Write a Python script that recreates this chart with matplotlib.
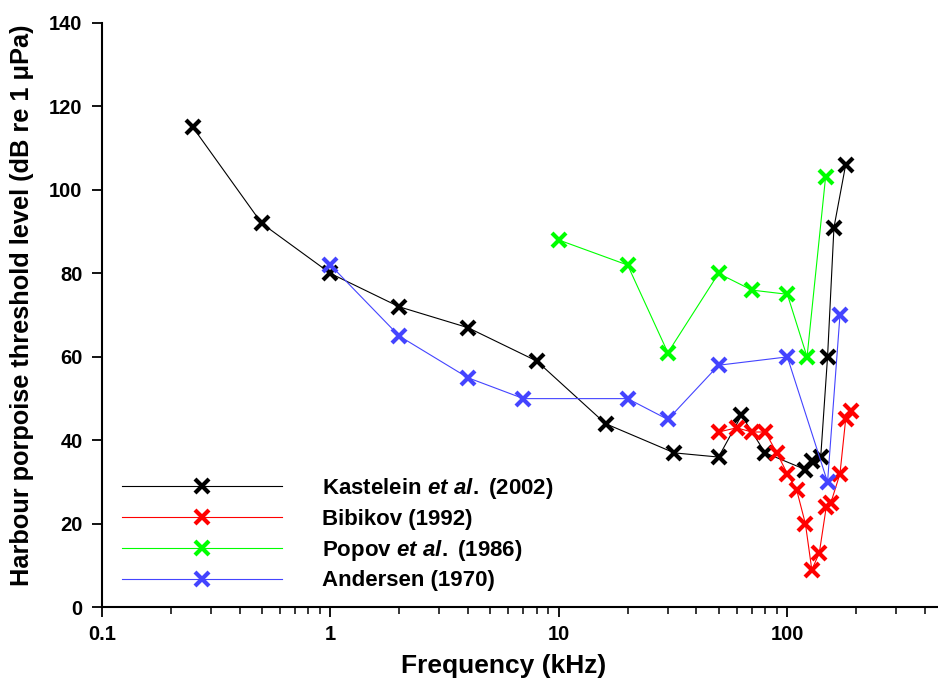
import matplotlib
matplotlib.use('Agg')
import matplotlib.pyplot as plt
from matplotlib.ticker import LogLocator, FixedLocator, NullFormatter

plt.rcParams['font.family'] = ['Liberation Sans', 'DejaVu Sans']
plt.rcParams['font.weight'] = 'bold'
plt.rcParams['mathtext.fontset'] = 'custom'
plt.rcParams['mathtext.it'] = 'Liberation Sans:bold:italic'
plt.rcParams['mathtext.rm'] = 'Liberation Sans:bold'

# Kastelein et al. (2002)
kast_freq = [0.25, 0.5, 1, 2, 4, 8, 16, 32, 50, 63, 80, 120, 128, 140, 150, 160, 180]
kast_db = [115, 92, 80, 72, 67, 59, 44, 37, 36, 46, 37, 33, 35, 36, 60, 91, 106]

# Bibikov (1992)
bib_freq = [50, 60, 70, 80, 90, 100, 110, 120, 128, 138, 148, 155, 170, 180, 190]
bib_db = [42, 43, 42, 42, 37, 32, 28, 20, 9, 13, 24, 25, 32, 45, 47]

# Popov et al. (1986)
pop_freq = [10, 20, 30, 50, 70, 100, 122, 147]
pop_db = [88, 82, 61, 80, 76, 75, 60, 103]

# Andersen (1970)
and_freq = [1, 2, 4, 7, 20, 30, 50, 100, 150, 170]
and_db = [82, 65, 55, 50, 50, 45, 58, 60, 30, 70]

series = [
    (kast_freq, kast_db, '#000000', r'Kastelein $et\ al.$ (2002)'),
    (bib_freq, bib_db, '#ff0000', 'Bibikov (1992)'),
    (pop_freq, pop_db, '#00ff00', r'Popov $et\ al.$ (1986)'),
    (and_freq, and_db, '#4444ff', 'Andersen (1970)'),
]

fig = plt.figure(figsize=(9.38, 6.81), dpi=100)
ax = fig.add_axes([102 / 938, 73.7 / 681, 845 / 938, 584.3 / 681])

for freq, db, color, label in series:
    ax.plot(freq, db, color=color, lw=0.8, marker='x', markersize=10,
            markeredgewidth=3, label=label, clip_on=False)

ax.set_xscale('log')
ax.set_xlim(0.1, 500)
ax.set_ylim(0, 140)
ax.set_yticks(range(0, 141, 20))
ax.xaxis.set_major_locator(FixedLocator([0.1, 1, 10, 100]))
ax.set_xticklabels(['0.1', '1', '10', '100'])
ax.xaxis.set_minor_locator(LogLocator(base=10, subs=range(2, 10)))
ax.xaxis.set_minor_formatter(NullFormatter())

for side in ['top', 'right']:
    ax.spines[side].set_visible(False)
for side in ['left', 'bottom']:
    ax.spines[side].set_linewidth(1.5)

ax.tick_params(axis='both', which='major', direction='out', length=7, width=1.3,
               labelsize=14.5)
ax.tick_params(axis='y', which='major', pad=7)
ax.tick_params(axis='x', which='major', pad=6)
ax.tick_params(axis='x', which='minor', direction='out', length=5, width=1.1)
for lbl in ax.get_xticklabels() + ax.get_yticklabels():
    lbl.set_fontweight('bold')

fig.text(504 / 938, 1 - 666 / 681, 'Frequency (kHz)', ha='center', va='center',
         fontsize=19, fontweight='bold')
fig.text(22 / 938, 1 - 586 / 681, 'Harbour porpoise threshold level (dB re 1 \u03bcPa)',
         rotation=90, ha='center', va='bottom', fontsize=18.3, fontweight='bold')

leg = ax.legend(loc='upper left', bbox_to_anchor=(20 / 845, 1 - 453 / 584.3),
                frameon=False, fontsize=16, handlelength=7.2, handletextpad=1.8,
                numpoints=1, labelspacing=0.35, borderaxespad=0, borderpad=0)
for t in leg.get_texts():
    t.set_fontweight('bold')

fig.savefig('out.png', dpi=100)
